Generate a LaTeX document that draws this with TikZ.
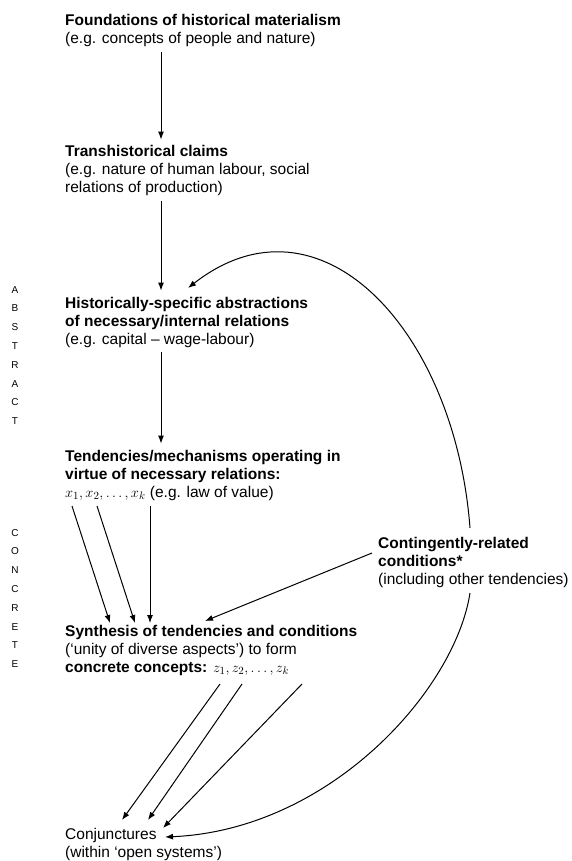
\documentclass[tikz,border=0pt]{standalone}
\usepackage{fontspec}
\setmainfont{Liberation Sans}
\usetikzlibrary{positioning,arrows.meta}

\begin{document}
\begin{tikzpicture}[x=1pt,y=-1pt,
  box/.style={anchor=base west,align=left,inner sep=0pt,font=\fontsize{15.5}{18}\selectfont},
  side/.style={anchor=north,align=center,inner sep=0pt,font=\fontsize{10}{18.8}\selectfont},
  flow/.style={-{Latex[length=8pt,width=6pt]},line width=1pt}]
  \useasboundingbox (0,0) rectangle (572,861);
  % side labels
  \node[side] (abstract) at (15,286) {A\\B\\S\\T\\R\\A\\C\\T};
  \node[side] (concrete) at (15,529) {C\\O\\N\\C\\R\\E\\T\\E};
  % levels (base = last line)
  \node[box] (found) at (65,44) {\textbf{Foundations of historical materialism}\\(e.g. concepts of people and nature)};
  \node[box] (trans) at (65,193) {\textbf{Transhistorical claims}\\(e.g. nature of human labour, social\\relations of production)};
  \node[box] (hist) at (65,344) {\textbf{Historically-specific abstractions}\\\textbf{of necessary/internal relations}\\(e.g. capital -- wage-labour)};
  \node[box] (tend) at (65,497) {\textbf{Tendencies/mechanisms operating in}\\\textbf{virtue of necessary relations:}\\$x_1, x_2, \ldots, x_k$ (e.g. law of value)};
  \node[box] (synth) at (65,672) {\textbf{Synthesis of tendencies and conditions}\\(`unity of diverse aspects') to form\\\textbf{concrete concepts:} $z_1, z_2, \ldots, z_k$};
  \node[box] (cont) at (378,584) {\textbf{Contingently-related}\\\textbf{conditions*}\\(including other tendencies)};
  \node[box] (conj) at (65,857) {Conjunctures\\(within `open systems')};
  % arrow ends
  \coordinate (spine) at (161,0);
  \coordinate (histin) at (188,288);
  \coordinate (contup) at (470,528);
  \coordinate (contl) at (372,553);
  \coordinate (contdn) at (470,593);
  \coordinate (x1) at (72,506);
  \coordinate (x2) at (97,506);
  \coordinate (xk) at (150,506);
  \coordinate (s1) at (110,623);
  \coordinate (s2) at (135,623);
  \coordinate (sk) at (150,623);
  \coordinate (synthin) at (205,621);
  \coordinate (z1) at (220,684);
  \coordinate (z2) at (242,684);
  \coordinate (zk) at (302,684);
  \coordinate (c1) at (122,820);
  \coordinate (c2) at (148,820);
  \coordinate (ck) at (163,828);
  \coordinate (cc) at (165,837);
  % downward chain
  \draw[flow,shorten <=5pt,shorten >=6pt] (found.south -| spine) -- (trans.north -| spine);
  \draw[flow,shorten <=5pt,shorten >=6pt] (trans.south -| spine) -- (hist.north -| spine);
  \draw[flow,shorten <=5pt,shorten >=6pt] (hist.south -| spine) -- (tend.north -| spine);
  % tendencies into synthesis
  \draw[flow] (x1) -- (s1);
  \draw[flow] (x2) -- (s2);
  \draw[flow] (xk) -- (sk);
  % contingent conditions
  \draw[flow] (contl) -- (synthin);
  \draw[flow] (contup) .. controls (455,330) and (320,185) .. (histin);
  % concrete concepts into conjunctures
  \draw[flow] (z1) -- (c1);
  \draw[flow] (z2) -- (c2);
  \draw[flow] (zk) -- (ck);
  \draw[flow] (contdn) .. controls (455,690) and (330,830) .. (cc);
\end{tikzpicture}
\end{document}
